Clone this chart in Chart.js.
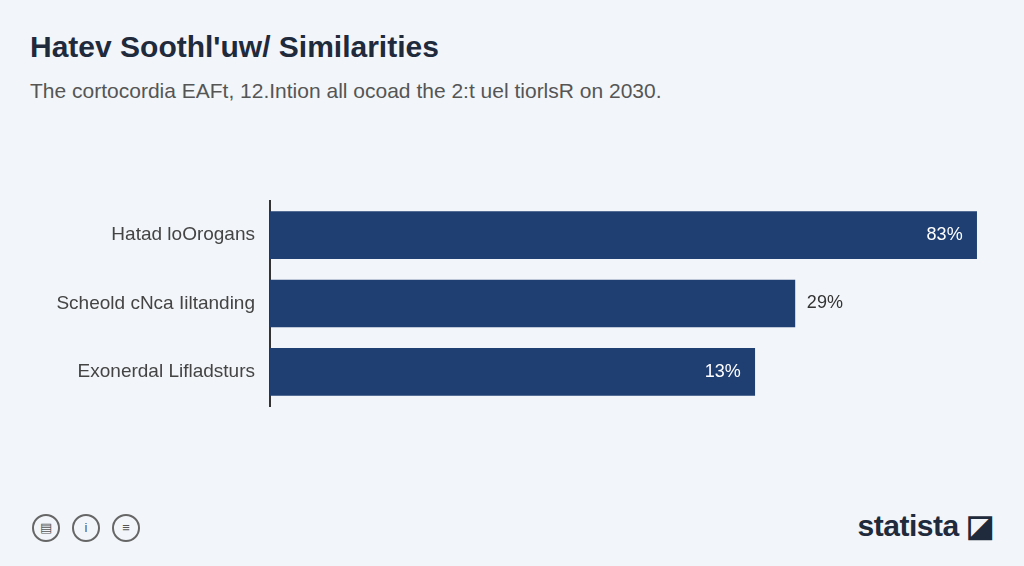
<!DOCTYPE html>
<html><head><meta charset="utf-8">
<script src="https://cdn.jsdelivr.net/npm/chart.js@4/dist/chart.umd.min.js"></script>
<style>
body{margin:0;width:1024px;height:566px;background:#f2f5f9;font-family:"Liberation Sans",Arial,sans-serif;position:relative;overflow:hidden}
#t{position:absolute;left:30px;top:30px;font-size:30px;font-weight:bold;color:#1f2a3c}
#s{position:absolute;left:30px;top:79px;font-size:21px;color:#555}
#c{position:absolute;left:0;top:170px;width:1024px;height:270px}
#logo{position:absolute;right:30px;top:508px;font-size:30px;font-weight:bold;color:#1f2a3c;letter-spacing:-0.5px}
.ic{position:absolute;top:514px;width:24px;height:24px;border:2px solid #666;border-radius:50%;font-size:13px;text-align:center;line-height:24px;color:#555}
</style></head><body>
<div id="t">Hatev Soothl'uw/ Similarities</div>
<div id="s">The cortocordia EAFt, 12.Intion all ocoad the 2:t uel tiorlsR on 2030.</div>
<canvas id="c" width="1024" height="270"></canvas>
<div class="ic" style="left:32px">▤</div><div class="ic" style="left:72px">i</div><div class="ic" style="left:112px">≡</div>
<div id="logo">statista ◪</div>
<script>
const categories=["Hatad loOrogans","Scheold cNca Iiltanding","Exonerdal Lifladsturs"];
const values=[96.8,71.9,66.4];
const valueLabels=["83%","29%","13%"];
const labelPlugin={id:'vl',afterDatasetsDraw(ch){const c=ch.ctx;const m=ch.getDatasetMeta(0);c.save();c.font='18px "Liberation Sans", Arial';c.textBaseline='middle';
m.data.forEach((b,i)=>{const inside=i!==1;c.fillStyle=inside?'#fff':'#333';c.textAlign=inside?'right':'left';c.fillText(valueLabels[i],inside?b.x-14:b.x+12,b.y);});c.restore();}};
new Chart(document.getElementById('c'),{type:'bar',
data:{labels:categories,datasets:[{data:values,backgroundColor:'#1f3f73',barThickness:47,categoryPercentage:1}]},
options:{indexAxis:'y',responsive:false,animation:false,devicePixelRatio:1,
layout:{padding:{right:24,top:31,bottom:34}},
plugins:{legend:{display:false},tooltip:{enabled:false}},
scales:{x:{display:false,min:0,max:100},
y:{grid:{display:false,drawTicks:false},border:{display:true,color:'#333',width:2},
ticks:{color:'#444',font:{size:19,family:'"Liberation Sans", Arial'},padding:15},
afterFit(s){s.width=270;}}}},
plugins:[labelPlugin]});
</script></body></html>
